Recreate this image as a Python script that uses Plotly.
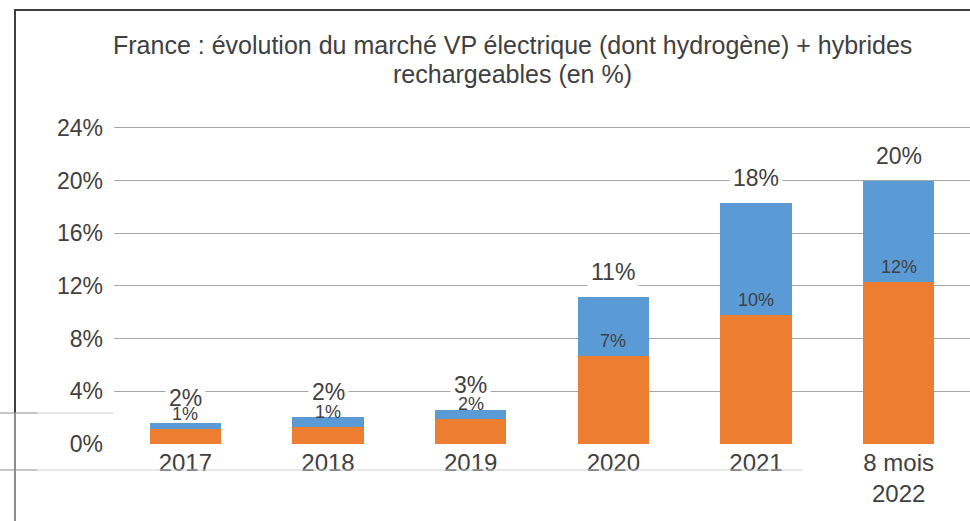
import plotly.graph_objects as go

categories = ["2017", "2018", "2019", "2020", "2021", "8 mois<br>2022"]
electric = [1.17, 1.32, 1.93, 6.65, 9.79, 12.29]
hybrid = [0.40, 0.71, 0.66, 4.52, 8.49, 7.71]
ytick_vals = [0, 4, 8, 12, 16, 20, 24]
ytick_text = ["0%", "4%", "8%", "12%", "16%", "20%", "24%"]
title_lines = ["France : évolution du marché VP électrique (dont hydrogène) + hybrides",
               "rechargeables (en %)"]

totals = [e + h for e, h in zip(electric, hybrid)]
xpos = list(range(len(categories)))

W, H = 970, 521
L, R, T, B = 114, 0, 124, 77
PW, PH = W - L - R, H - T - B
YMAX = 24.3

def px_x(px):
    return (px - L) / PW

def px_y(py):
    return (H - B - py) / PH

FONT = "Liberation Sans, Arial, sans-serif"
TXT = "#404040"

fig = go.Figure()
fig.add_trace(go.Bar(x=xpos, y=electric, marker=dict(color="#ED7D31", line=dict(width=0)),
                     name="Electrique", hoverinfo="skip"))
fig.add_trace(go.Bar(x=xpos, y=hybrid, marker=dict(color="#5B9BD5", line=dict(width=0)),
                     name="Hybrides", hoverinfo="skip"))

ann = []
for i, t in zip(xpos, totals):
    ann.append(dict(x=i, y=t, xref="x", yref="y", text=f"{round(t)}%", showarrow=False,
                    yanchor="middle", yshift=25,
                    font=dict(size=23, color=TXT, family=FONT), bgcolor="white", borderpad=3))
for i, e in zip(xpos, electric):
    ann.append(dict(x=i, y=e, xref="x", yref="y", text=f"{round(e)}%", showarrow=False,
                    yanchor="middle", yshift=15,
                    font=dict(size=18, color=TXT, family=FONT)))
for line, cy in zip(title_lines, [44.8, 74.2]):
    ann.append(dict(xref="paper", yref="paper", x=px_x(512), y=px_y(cy), yanchor="middle", xanchor="center",
                    text=line, showarrow=False, font=dict(size=25, color=TXT, family=FONT)))

shapes = [
    dict(type="line", xref="paper", yref="paper", x0=px_x(14), x1=px_x(970), y0=px_y(10), y1=px_y(10),
         line=dict(color="#404040", width=2)),
    dict(type="line", xref="paper", yref="paper", x0=px_x(15), x1=px_x(15), y0=px_y(9), y1=px_y(413),
         line=dict(color="#404040", width=2)),
    dict(type="line", xref="paper", yref="paper", x0=px_x(15), x1=px_x(15), y0=px_y(413), y1=px_y(521),
         line=dict(color="#8C8C8C", width=2)),
    dict(type="line", xref="paper", yref="paper", x0=px_x(0), x1=px_x(37), y0=px_y(413), y1=px_y(413),
         line=dict(color="#8C8C8C", width=1)),
    dict(type="line", xref="paper", yref="paper", x0=px_x(37), x1=px_x(113), y0=px_y(413), y1=px_y(413),
         line=dict(color="#D0D0D0", width=1)),
    dict(type="line", xref="paper", yref="paper", x0=px_x(0), x1=px_x(37), y0=px_y(470), y1=px_y(470),
         line=dict(color="#8C8C8C", width=1)),
    dict(type="line", xref="paper", yref="paper", x0=px_x(37), x1=px_x(803), y0=px_y(470), y1=px_y(470),
         line=dict(color="#D0D0D0", width=1)),
]

fig.update_layout(
    width=W, height=H,
    margin=dict(l=L, r=R, t=T, b=B, pad=0),
    barmode="stack", bargap=0.5,
    showlegend=False,
    paper_bgcolor="white", plot_bgcolor="white",
    font=dict(family=FONT, color=TXT),
    annotations=ann,
    shapes=shapes,
    hovermode=False,
)
fig.update_xaxes(range=[-0.5, len(categories) - 0.5], tickmode="array", tickvals=xpos, ticktext=categories,
                 showgrid=False, showline=False, ticks="", zeroline=False, automargin=False,
                 tickfont=dict(size=24, color=TXT, family=FONT), ticklabelstandoff=2)
fig.update_yaxes(range=[0, YMAX], tickvals=ytick_vals, ticktext=ytick_text, showgrid=True,
                 gridcolor="#A6A6A6", gridwidth=1, zeroline=True, zerolinecolor="white",
                 showline=False, ticks="", automargin=False,
                 tickfont=dict(size=23, color=TXT, family=FONT), ticklabelstandoff=10)

fig.write_html("out.html", config={"displayModeBar": False},
               post_script="document.body.style.margin='0';document.body.style.padding='0';")
